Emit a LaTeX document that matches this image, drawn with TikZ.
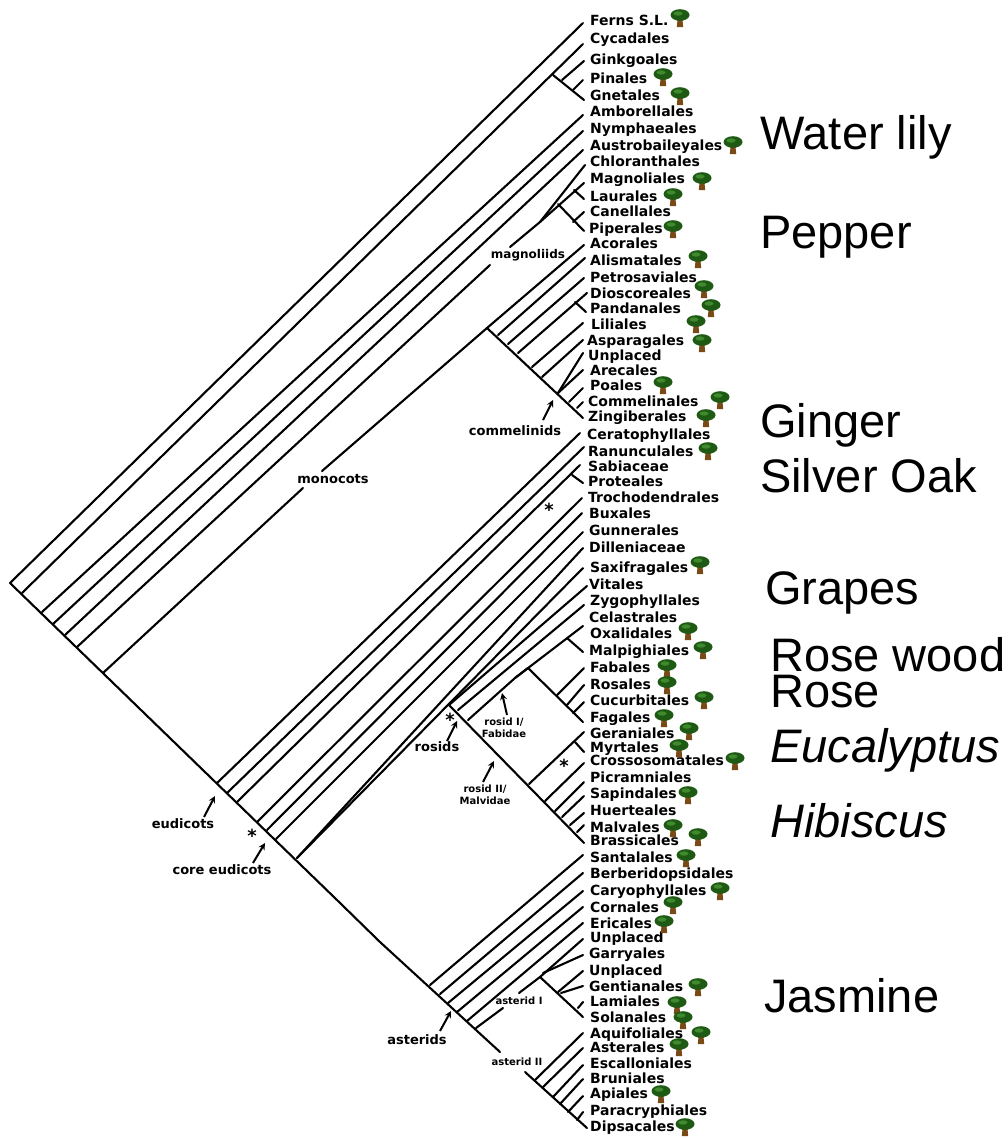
\documentclass[tikz,border=0pt]{standalone}
\usepackage{fontspec}
\setmainfont{DejaVu Sans}
\newfontfamily\cladefont{Liberation Sans}
\definecolor{treegreen}{HTML}{1E5A14}
\definecolor{treelight}{HTML}{3F8A2C}
\definecolor{treebrown}{HTML}{7A4A16}
\tikzset{
  branch/.style={line width=2.1pt, line cap=round},
  pointer/.style={line width=2pt, ->, >=stealth},
  taxon/.style={anchor=base west, inner sep=0pt, font=\fontsize{14}{14}\selectfont\bfseries},
  group/.style={inner sep=0pt, font=\fontsize{13}{13}\selectfont\bfseries},
  subgroup/.style={inner sep=0pt, align=center, font=\fontsize{10}{12}\selectfont\bfseries},
  starmark/.style={inner sep=0pt, font=\fontsize{18}{18}\selectfont\bfseries},
  crop/.style={anchor=base west, inner sep=0pt, font=\cladefont\fontsize{47}{47}\selectfont},
  tree/.pic={
    \fill[treebrown] (-5,2) -- (5,2) -- (2.6,6) -- (3.2,12) -- (-3.2,12) -- (-2.6,6) -- cycle;
    \fill[treegreen] (0,0) ellipse (9.5 and 5.8);
    \fill[treelight] (-2,-1.5) ellipse (4.5 and 2.2);
  }
}
\begin{document}
\begin{tikzpicture}[x=1pt, y=-1pt]
  \useasboundingbox (0,0) rectangle (1007,1138);

  % 1. main spine
  \coordinate (apex) at (10,583);
  \coordinate (spineA) at (337,900);
  \coordinate (spineB) at (380,942);
  \coordinate (spineC) at (500,1052);
  \draw[branch] (apex) -- (spineA) -- (spineB) -- (spineC);

  % 2. taxa: name/text/label x/label y/tip x/tip y/foot x/foot y
  \foreach \nm/\txt/\lx/\ly/\tx/\ty/\fx/\fy in {
    ferns/Ferns S.L./590/20/583/23/10/583,
    cycadales/Cycadales/590/38/583/44/22/593,
    ginkgoales/Ginkgoales/590/59/584/61/562/80,
    pinales/Pinales/590/78/583/80/573/90,
    gnetales/Gnetales/590/95/584/100/553/75,
    amborellales/Amborellales/590/111/583/115/42/612,
    nymphaeales/Nymphaeales/590/128/583/131/53/624,
    austrobaileyales/Austrobaileyales/590/145/583/150/65/635,
    chloranthales/Chloranthales/590/161/585/165/540/222,
    magnoliales/Magnoliales/590/178/584/183/540/222,
    laurales/Laurales/590/196/584/199/574/190,
    canellales/Canellales/590/211/584/212/573/222,
    piperales/Piperales/589/228/584/231/558/204,
    acorales/Acorales/590/243/584/245/487/328,
    alismatales/Alismatales/590/260/585/258/498/335,
    petrosaviales/Petrosaviales/590/277/584/278/508/344,
    dioscoreales/Dioscoreales/590/293/587/293/518/353,
    pandanales/Pandanales/590/308/586/312/575/302,
    liliales/Liliales/591/324/583/323/532/367,
    asparagales/Asparagales/587/340/583/340/542/377,
    unplacedA/Unplaced/588/355/583/353/558/393,
    arecales/Arecales/590/370/583/370/558/393,
    poales/Poales/590/385/583/388/569/402,
    commelinales/Commelinales/588/401/583/402/577/408,
    zingiberales/Zingiberales/588/416/583/418/487/328,
    ceratophyllales/Ceratophyllales/587/434/580/433/217/783,
    ranunculales/Ranunculales/588/451/584/447/227/793,
    sabiaceae/Sabiaceae/588/466/580/465/237/802,
    proteales/Proteales/588/481/583/483/572/475,
    trochodendrales/Trochodendrales/588/497/582/498/257/822,
    buxales/Buxales/589/513/582/513/267/830,
    gunnerales/Gunnerales/589/530/583/532/276/839,
    dilleniaceae/Dilleniaceae/589/547/583/548/297/858,
    saxifragales/Saxifragales/590/567/583/568/297/858,
    vitales/Vitales/589/584/587/586/449/705,
    zygophyllales/Zygophyllales/590/600/584/605/458/710,
    oxalidales/Oxalidales/590/633/583/626/515/678,
    malpighiales/Malpighiales/589/650/583/652/567/638,
    fabales/Fabales/590/667/584/668/557/695,
    rosales/Rosales/590/684/584/685/567/705,
    cucurbitales/Cucurbitales/590/700/584/702/573/713,
    fagales/Fagales/590/717/583/722/528/668,
    geraniales/Geraniales/590/733/584/732/529/784,
    myrtales/Myrtales/590/747/584/752/575/742,
    crossosomatales/Crossosomatales/590/760/584/763/545/801,
    picramniales/Picramniales/590/777/584/782/555/811,
    sapindales/Sapindales/590/793/584/796/562/817,
    huerteales/Huerteales/590/810/584/813/570/825,
    malvales/Malvales/590/827/584/825/577/832,
    brassicales/Brassicales/590/840/584/843/449/705,
    santalales/Santalales/590/857/583/855/430/985,
    berberidopsidales/Berberidopsidales/590/873/583/873/440/994,
    caryophyllales/Caryophyllales/590/890/583/891/448/1003,
    cornales/Cornales/590/907/583/907/457/1012,
    ericales/Ericales/590/923/583/923/467/1021,
    unplacedB/Unplaced/590/937/583/939/540/977,
    garryales/Garryales/589/953/583/955/543/973,
    unplacedC/Unplaced/589/970/583/971/558/992,
    gentianales/Gentianales/589/986/583/986/561/993,
    lamiales/Lamiales/590/1001/583/1002/578/1008,
    solanales/Solanales/590/1017/583/1017/540/977,
    aquifoliales/Aquifoliales/590/1033/583/1033/535/1080,
    asterales/Asterales/590/1047/583/1048/543/1087,
    escalloniales/Escalloniales/590/1063/583/1065/553/1097,
    bruniales/Bruniales/590/1078/583/1079/560/1104,
    apiales/Apiales/590/1093/583/1096/568/1112,
    paracryphiales/Paracryphiales/590/1110/583/1112/577/1120,
    dipsacales/Dipsacales/590/1126/587/1128/525/1072}{
    \node[taxon] (\nm) at (\lx,\ly+5) {\txt};
    \coordinate (\nm-tip) at (\tx,\ty);
    \coordinate (\nm-foot) at (\fx,\fy);
    \draw[branch] (\nm-foot) -- (\nm-tip);
  }
  \node[taxon] (celastrales) at (589,622) {Celastrales};

  % 3. stems broken by a group label
  \coordinate (monoA) at (103,673);
  \coordinate (monoB) at (303,488);
  \coordinate (monoC) at (322,471);
  \draw[branch] (monoA) -- (monoB);
  \draw[branch] (monoC) -- (acorales-foot);
  \coordinate (magnoA) at (77,647);
  \coordinate (magnoB) at (490,265);
  \coordinate (magnoC) at (510,247);
  \draw[branch] (magnoA) -- (magnoB);
  \draw[branch] (magnoC) -- (chloranthales-foot);
  \coordinate (asterA) at (476,1028);
  \coordinate (asterB) at (503,1008);
  \coordinate (asterC) at (519,993);
  \draw[branch] (asterA) -- (asterB);
  \draw[branch] (asterC) -- (unplacedB-foot);
  \coordinate (rosidFork) at (468,720);
  \draw[branch] (rosidFork) -- (oxalidales-foot) -- (fagales-foot);

  % 4. group labels and their arrows
  \node[group] (monocots) at (333,479) {monocots};
  \node[group, font=\fontsize{12}{12}\selectfont\bfseries] (magnoliids) at (528,255) {magnoliids};
  \node[group] (commelinids) at (515,431) {commelinids};
  \node[group] (rosids) at (437,747) {rosids};
  \node[group] (eudicots) at (183,824) {eudicots};
  \node[group] (coreeudicots) at (222,870) {core eudicots};
  \node[group] (asterids) at (417,1040) {asterids};
  \node[subgroup] (asteridI) at (519,1001) {asterid I};
  \node[subgroup] (asteridII) at (517,1062) {asterid II};
  \node[subgroup] (rosidI) at (504,728) {rosid I/\\Fabidae};
  \node[subgroup] (rosidII) at (485,795) {rosid II/\\Malvidae};
  \foreach \nm/\ax/\ay/\bx/\by in {
    eudicots/204/817/215/796, coreeudicots/253/863/265/843,
    rosids/447/741/457/721, rosidI/507/715/502/693, rosidII/483/782/494/761,
    commelinids/543/420/553/400, asterids/440/1031/451/1011}{
    \coordinate (\nm-tail) at (\ax,\ay);
    \coordinate (\nm-head) at (\bx,\by);
    \draw[pointer] (\nm-tail) -- (\nm-head);
  }

  % 5. stars
  \node[starmark] (starA) at (252,836) {*};
  \node[starmark] (starB) at (450,720) {*};
  \node[starmark] (starC) at (549,510) {*};
  \node[starmark] (starD) at (564,766) {*};

  % 6. trees
  \foreach \px/\py in {680/15, 663/74, 680/93, 733/142, 702/178, 673/194, 673/226,
    698/256, 704/286, 711/305, 696/321, 702/340, 663/382, 720/397, 706/415, 708/448,
    700/562, 688/628, 703/647, 667/665, 667/682, 704/697, 664/715, 689/728, 679/745,
    735/758, 688/792, 673/825, 698/834, 686/855, 720/888, 673/902, 664/921, 698/984,
    677/1002, 683/1017, 701/1032, 679/1044, 661/1091, 685/1124}
    \pic at (\px,\py) {tree};

  % 7. crop names
  \node[crop] (waterlily) at (760,149) {Water lily};
  \node[crop] (pepper) at (760,248) {Pepper};
  \node[crop] (ginger) at (760,437) {Ginger};
  \node[crop] (silveroak) at (760,492) {Silver Oak};
  \node[crop] (grapes) at (765,604) {Grapes};
  \node[crop] (rosewood) at (770,671) {Rose wood};
  \node[crop] (rose) at (770,707) {Rose};
  \node[crop, font=\cladefont\itshape\fontsize{47}{47}\selectfont] (eucalyptus) at (770,762) {Eucalyptus};
  \node[crop, font=\cladefont\itshape\fontsize{47}{47}\selectfont] (hibiscus) at (770,837) {Hibiscus};
  \node[crop] (jasmine) at (764,1012) {Jasmine};
\end{tikzpicture}
\end{document}
